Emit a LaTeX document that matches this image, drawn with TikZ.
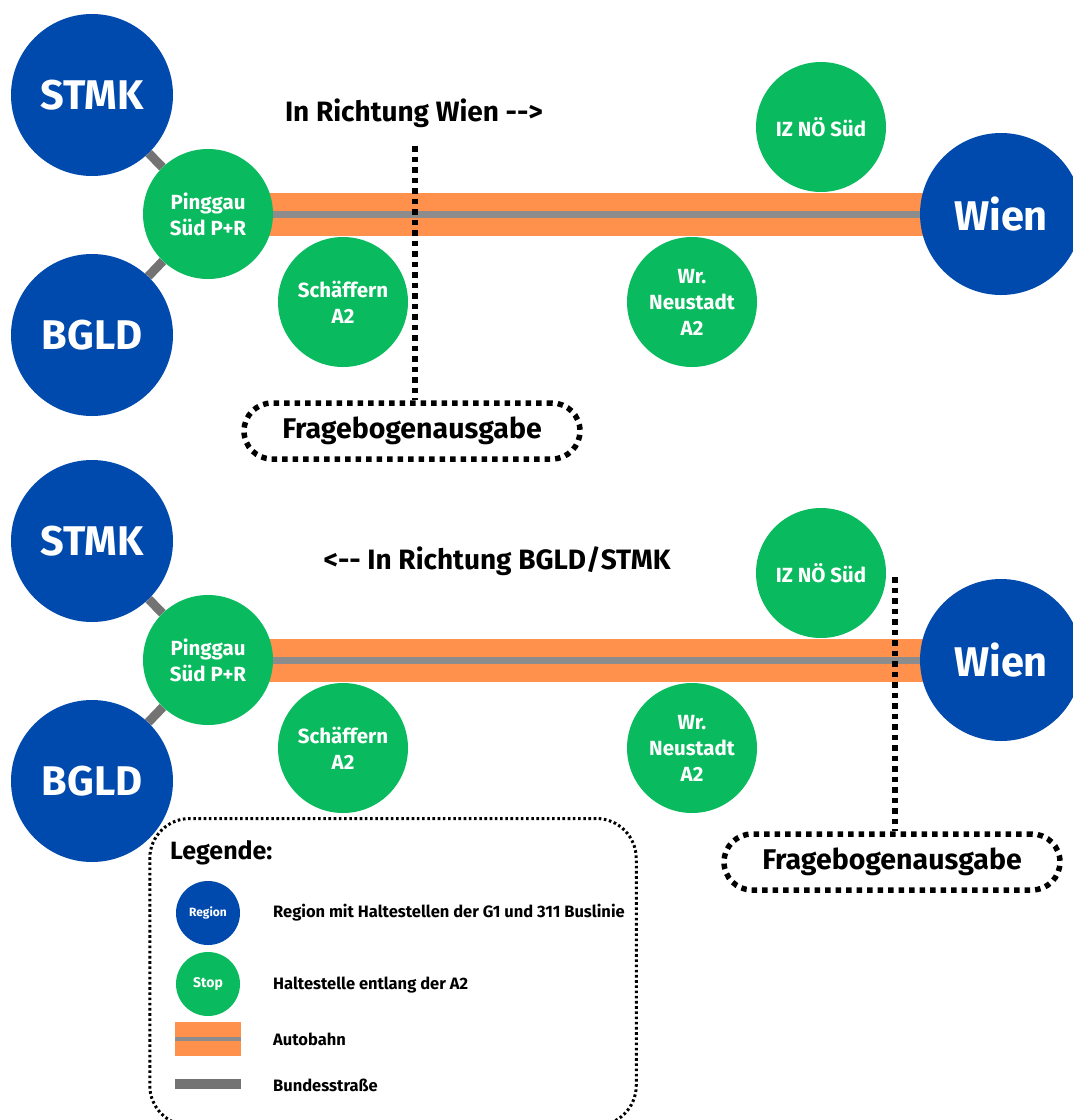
\documentclass[tikz,border=0pt]{standalone}
\usepackage{fontspec}
\setmainfont{Fira Sans}
\usetikzlibrary{backgrounds}
\definecolor{regionblue}{RGB}{0,74,173}
\definecolor{stopgreen}{RGB}{9,187,94}
\definecolor{roadorange}{RGB}{255,145,77}
\definecolor{midgrey}{RGB}{140,140,140}
\definecolor{roadgrey}{RGB}{115,115,115}
\newcommand{\fs}[2]{\fontsize{#1}{#2}\selectfont\bfseries}
\tikzset{
  region/.style={circle, fill=regionblue, minimum size=162pt, inner sep=0pt,
    text=white, font=\fs{41.5}{48}},
  stopnode/.style={circle, fill=stopgreen, minimum size=130pt, inner sep=0pt,
    text=white, align=center, font=\fs{20.5}{26}},
  autobahn/.style={line width=43pt, draw=roadorange},
  midline/.style={line width=7pt, draw=midgrey},
  bundes/.style={line width=9pt, draw=roadgrey},
  fbdots/.style={line width=5.5pt, dash pattern=on 5.5pt off 5pt},
  fbbox/.style={draw, fbdots, rounded corners=28pt, minimum width=336pt,
    minimum height=56pt, inner sep=0pt, font=\fs{28.5}{32}},
  heading/.style={font=\fs{28}{32}},
  legtext/.style={anchor=west, inner sep=0pt, font=\fs{16.5}{19}},
}
\begin{document}
\begin{tikzpicture}[x=1pt, y=-1pt]
\useasboundingbox (0,0) rectangle (1072,1120);

% ---------- upper network: travelling towards Wien ----------
\node[region]   (stmkA)  at (92,95)   {STMK};
\node[region]   (bgldA)  at (92,335)  {BGLD};
\node[stopnode] (pingA)  at (208,214) {Pinggau\\Süd P+R};
\node[stopnode] (schA)   at (343,302) {Schäffern\\A2};
\node[stopnode] (wrnA)   at (692,302) {Wr.\\Neustadt\\A2};
\node[stopnode] (izA)    at (821,127) {IZ NÖ Süd};
\node[region]   (wienA)  at (1001,214) {Wien};
\begin{scope}[on background layer]
  \draw[autobahn] (pingA.center) -- (wienA.center);
  \draw[midline]  (pingA.center) -- (wienA.center);
  \draw[bundes]   (stmkA) -- (pingA);
  \draw[bundes]   (bgldA) -- (pingA);
\end{scope}
\node[heading] (dirA) at (414,113) {In Richtung Wien -{}->};
\node[fbbox] (fbA) at (412,431) {Fragebogenausgabe};
\coordinate (markA) at (415,146);
\draw[fbdots] (markA) -- (markA |- fbA.north);

% ---------- lower network: travelling towards BGLD/STMK ----------
\node[region]   (stmkB)  at (92,541)   {STMK};
\node[region]   (bgldB)  at (92,781)   {BGLD};
\node[stopnode] (pingB)  at (208,660)  {Pinggau\\Süd P+R};
\node[stopnode] (schB)   at (343,748)  {Schäffern\\A2};
\node[stopnode] (wrnB)   at (692,748)  {Wr.\\Neustadt\\A2};
\node[stopnode] (izB)    at (821,573)  {IZ NÖ Süd};
\node[region]   (wienB)  at (1001,660) {Wien};
\begin{scope}[on background layer]
  \draw[autobahn] (pingB.center) -- (wienB.center);
  \draw[midline]  (pingB.center) -- (wienB.center);
  \draw[bundes]   (stmkB) -- (pingB);
  \draw[bundes]   (bgldB) -- (pingB);
\end{scope}
\node[heading] (dirB) at (497,561) {<-{}- In Richtung BGLD/STMK};
\node[fbbox] (fbB) at (892,862) {Fragebogenausgabe};
\coordinate (markB) at (895,577);
\draw[fbdots] (markB) -- (markB |- fbB.north);

% ---------- legend ----------
\node[draw, line width=3pt, dash pattern=on 2.6pt off 2.6pt, rounded corners=40pt,
  minimum width=486.5pt, minimum height=307pt, inner sep=0pt] (legend) at (393,972) {};
\node[anchor=west, inner sep=0pt, font=\fs{25}{28}] (legtitle) at (170,853) {Legende:};
\node[circle, fill=regionblue, minimum size=64pt, inner sep=0pt, text=white,
  font=\fs{12}{14}] (legregion) at (208,913) {Region};
\node[circle, fill=stopgreen, minimum size=64pt, inner sep=0pt, text=white,
  font=\fs{14}{16}] (legstop) at (208,984) {Stop};
\node[fill=roadorange, minimum width=66pt, minimum height=34pt, inner sep=0pt]
  (legauto) at (208,1039) {};
\draw[line width=4pt, draw=midgrey] (legauto.west) -- (legauto.east);
\node[fill=roadgrey, minimum width=66pt, minimum height=10pt, inner sep=0pt]
  (legbund) at (208,1084) {};
\node[legtext] (tregion) at (273,913)  {Region mit Haltestellen der G1 und 311 Buslinie};
\node[legtext] (tstop)   at (273,985)  {Haltestelle entlang der A2};
\node[legtext] (tauto)   at (273,1039) {Autobahn};
\node[legtext] (tbund)   at (273,1085) {Bundesstraße};
\end{tikzpicture}
\end{document}
